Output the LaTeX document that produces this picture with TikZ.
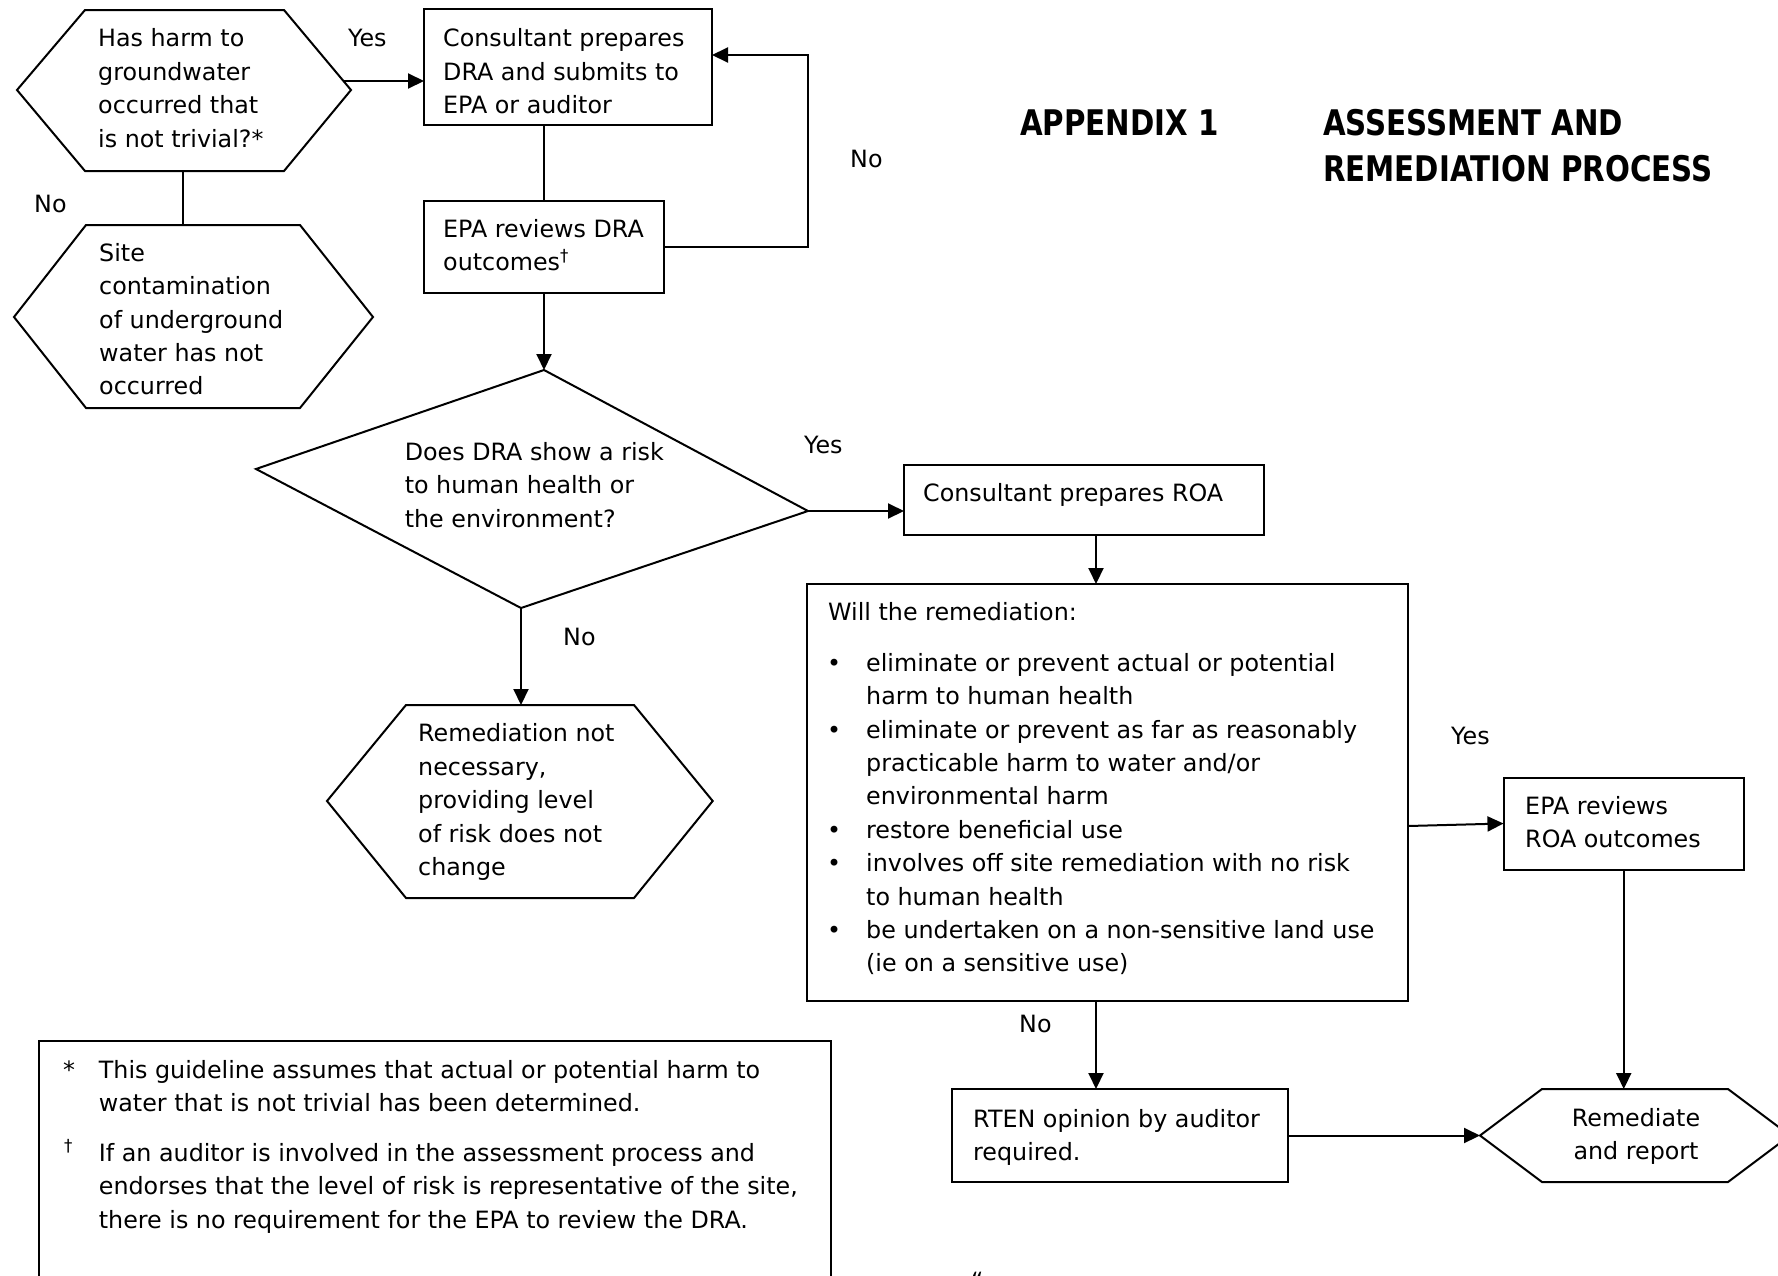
\documentclass[tikz,border=0pt]{standalone}
\usepackage{fontspec}
\setmainfont{DejaVu Sans}
\newfontfamily\headfam{DejaVu Sans}[FakeStretch=0.83]
\usetikzlibrary{arrows.meta,calc}
\newcommand\bodysize{\fontsize{23.8}{33.4}\selectfont}
\newcommand\headsize{\fontsize{35.3}{46.7}\selectfont}
\newcommand\lead{\rule{0pt}{22pt}}

\begin{document}
\begin{tikzpicture}[x=1pt,y=-1pt,
  ln/.style={line width=2pt},
  arr/.style={line width=2pt,-{Triangle[length=16pt,width=15pt]}},
  shp/.style={draw,line width=2pt,line join=miter},
  box/.style={draw,line width=2pt,rectangle,inner sep=0pt,outer sep=0pt,anchor=north west},
  txt/.style={anchor=north west,inner sep=0pt,align=left,font=\bodysize},
  ctxt/.style={anchor=north,inner sep=0pt,align=center,font=\bodysize},
  lbl/.style={anchor=base west,inner sep=0pt,font=\bodysize},
  head/.style={anchor=base west,inner sep=0pt,font=\headfam\bfseries\headsize}]

\useasboundingbox (0,0) rectangle (1778,1275);
\fill[white] (0,0) rectangle (1778,1275);

% ---- title ----
\node[head] (tapp) at (1020,135) {APPENDIX 1};
\node[head] (ttl1) at (1323,135) {ASSESSMENT AND};
\node[head] (ttl2) at (1323,181.7) {REMEDIATION PROCESS};

% ---- first question (hexagon) ----
\coordinate (h1l) at (17,90);
\coordinate (h1tl) at (85,10);
\coordinate (h1tr) at (284,10);
\coordinate (h1r) at (351,90);
\coordinate (h1br) at (284,171);
\coordinate (h1bl) at (85,171);
\draw[shp] (h1l) -- (h1tl) -- (h1tr) -- (h1r) -- (h1br) -- (h1bl) -- cycle;
\node[txt] (h1t) at (98,24.7) {\lead Has harm to\\groundwater\\occurred that\\is not trivial?*};

% ---- no contamination (hexagon) ----
\coordinate (h2l) at (14,317);
\coordinate (h2tl) at (86,225);
\coordinate (h2tr) at (300,225);
\coordinate (h2r) at (373,317);
\coordinate (h2br) at (300,408);
\coordinate (h2bl) at (86,408);
\draw[shp] (h2l) -- (h2tl) -- (h2tr) -- (h2r) -- (h2br) -- (h2bl) -- cycle;
\node[txt] (h2t) at (99,239) {\lead Site\\contamination\\of underground\\water has not\\occurred};

% ---- DRA boxes ----
\node[box,minimum width=288pt,minimum height=116pt] (b1) at (424,9) {};
\node[txt] (b1t) at (443,24.7) {\lead Consultant prepares\\DRA and submits to\\EPA or auditor};
\node[box,minimum width=240pt,minimum height=92pt] (b2) at (424,201) {};
\node[txt] (b2t) at (443,215) {\lead EPA reviews DRA\\outcomes\textsuperscript{†}};

% ---- risk question (diamond) ----
\coordinate (dt) at (544,370);
\coordinate (dr) at (808,511);
\coordinate (db) at (521,608);
\coordinate (dl) at (256,469);
\draw[shp] (dt) -- (dr) -- (db) -- (dl) -- cycle;
\node[txt] (dtx) at (404.6,438) {\lead Does DRA show a risk\\to human health or\\the environment?};

% ---- remediation not necessary (hexagon) ----
\coordinate (h3l) at (327,801);
\coordinate (h3tl) at (406,705);
\coordinate (h3tr) at (634,705);
\coordinate (h3r) at (712.7,801);
\coordinate (h3br) at (634,898);
\coordinate (h3bl) at (406,898);
\draw[shp] (h3l) -- (h3tl) -- (h3tr) -- (h3r) -- (h3br) -- (h3bl) -- cycle;
\node[txt] (h3t) at (418,719.7) {\lead Remediation not\\necessary,\\providing level\\of risk does not\\change};

% ---- ROA ----
\node[box,minimum width=360pt,minimum height=70pt] (roa) at (904,465) {};
\node[txt] (roat) at (923,479) {\lead Consultant prepares ROA};

% ---- remediation criteria ----
\node[box,minimum width=601pt,minimum height=417pt] (big) at (807,584) {};
\node[lbl] (bigh) at (828,620) {Will the remediation:};
\foreach \yy [count=\i] in {671,738,838.2,871.6,938.4}
  \node[lbl] (bul\i) at (827,\yy) {•};
\node[txt] (bigt) at (866,649) {\lead eliminate or prevent actual or potential\\harm to human health\\eliminate or prevent as far as reasonably\\practicable harm to water and/or\\environmental harm\\restore beneficial use\\involves off site remediation with no risk\\to human health\\be undertaken on a non-sensitive land use\\(ie on a sensitive use)};

% ---- EPA reviews ROA ----
\node[box,minimum width=240.5pt,minimum height=92pt] (e2) at (1503.5,777.5) {};
\node[txt] (e2t) at (1525,792) {\lead EPA reviews\\ROA outcomes};

% ---- RTEN ----
\node[box,minimum width=336.5pt,minimum height=93pt] (rt) at (951.5,1089) {};
\node[txt] (rtt) at (973,1105) {\lead RTEN opinion by auditor\\required.};

% ---- remediate and report (hexagon) ----
\coordinate (h4l) at (1480,1135.5);
\coordinate (h4tl) at (1542,1089);
\coordinate (h4tr) at (1728,1089);
\coordinate (h4r) at (1790,1135.5);
\coordinate (h4br) at (1728,1182);
\coordinate (h4bl) at (1542,1182);
\draw[shp] (h4l) -- (h4tl) -- (h4tr) -- (h4r) -- (h4br) -- (h4bl) -- cycle;
\node[ctxt] (h4t) at (1636,1104) {\lead Remediate\\and report};

% ---- footnotes ----
\node[box,minimum width=792pt,minimum height=260pt] (foot) at (39,1041) {};
\node[lbl] (fn1m) at (63,1078) {*};
\node[lbl] (fn2m) at (64,1161) {\textsuperscript{†}};
\node[txt] (fn1) at (98.7,1056) {\lead This guideline assumes that actual or potential harm to\\water that is not trivial has been determined.};
\node[txt] (fn2) at (98.7,1139) {\lead If an auditor is involved in the assessment process and\\endorses that the level of risk is representative of the site,\\there is no requirement for the EPA to review the DRA.};
\node[lbl] (qt) at (971,1289) {“};

% ---- connectors ----
\coordinate (ya) at ($(h1tr)!0.8875!(h1r)$);
\draw[arr] (ya) -- (ya -| b1.west);
\node[lbl] (lyes1) at (348,46.7) {Yes};

\coordinate (h1b) at (182.7,171);
\draw[ln] (h1b) -- (h1b |- h2tl);
\node[lbl] (lno1) at (34,212) {No};

\draw[ln] (b2.north) -- (b2.north |- b1.south);

\coordinate (fb) at (808,55);
\draw[arr] (b2.east) -| (fb) -- (fb -| b1.east);
\node[lbl] (lno2) at (850,167) {No};

\draw[arr] (b2.south) -- (dt);

\draw[arr] (dr) -- (dr -| roa.west);
\node[lbl] (lyes2) at (804,453) {Yes};

\draw[arr] (db) -- (db |- h3tl);
\node[lbl] (lno3) at (563,645) {No};

\coordinate (ra) at (1096,535);
\draw[arr] (ra) -- (ra |- big.north);

\coordinate (bx) at (1408,826);
\draw[arr] (bx) -- (e2.west);
\node[lbl] (lyes3) at (1451,744) {Yes};

\draw[arr] (e2.south) -- (e2.south |- h4tl);

\coordinate (bn) at (1096,1001);
\draw[arr] (bn) -- (bn |- rt.north);
\node[lbl] (lno4) at (1019,1032) {No};

\draw[arr] (rt.east) -- (h4l);
\end{tikzpicture}
\end{document}
